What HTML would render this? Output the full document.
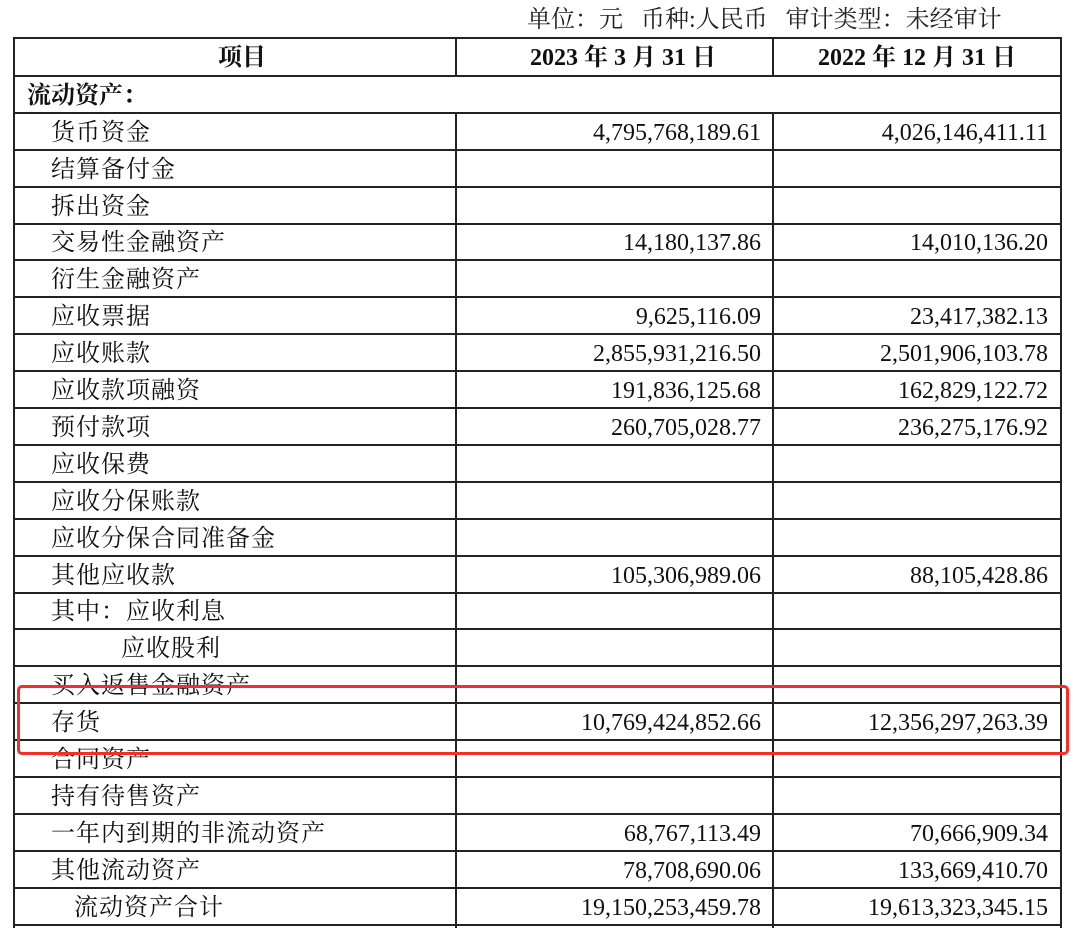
<!DOCTYPE html>
<html><head><meta charset="utf-8"><style>
body{margin:0;width:1080px;height:928px;background:#fff;overflow:hidden;position:relative;font-family:"Liberation Serif","Noto Serif CJK SC",serif;color:#111}
.h{position:absolute;left:13px;width:1048px;height:0;border-top:2px solid #222}
.v{position:absolute;width:0;border-left:2px solid #222}
.r{position:absolute;left:0;width:1080px;height:37px;line-height:37px;font-size:24px;margin-top:2px}
.l{position:absolute;white-space:nowrap;letter-spacing:1px}
.a{position:absolute;right:319px;white-space:nowrap}
.b{position:absolute;right:32px;white-space:nowrap}
</style></head><body>
<div style="position:absolute;left:527px;top:4px;font-size:24px;line-height:32px;white-space:nowrap;color:#222">单位：元&nbsp;&nbsp;&nbsp;币种:人民币&nbsp;&nbsp;&nbsp;审计类型：未经审计</div>

<div class="h" style="top:37px"></div>
<div class="h" style="top:75px"></div>
<div class="h" style="top:112px"></div>
<div class="h" style="top:149px"></div>
<div class="h" style="top:186px"></div>
<div class="h" style="top:223px"></div>
<div class="h" style="top:259px"></div>
<div class="h" style="top:296px"></div>
<div class="h" style="top:333px"></div>
<div class="h" style="top:370px"></div>
<div class="h" style="top:407px"></div>
<div class="h" style="top:444px"></div>
<div class="h" style="top:481px"></div>
<div class="h" style="top:518px"></div>
<div class="h" style="top:555px"></div>
<div class="h" style="top:592px"></div>
<div class="h" style="top:628px"></div>
<div class="h" style="top:665px"></div>
<div class="h" style="top:702px"></div>
<div class="h" style="top:739px"></div>
<div class="h" style="top:776px"></div>
<div class="h" style="top:813px"></div>
<div class="h" style="top:850px"></div>
<div class="h" style="top:887px"></div>
<div class="h" style="top:924px"></div>

<div class="v" style="left:13px;top:37px;height:891px"></div>
<div class="v" style="left:1060px;top:37px;height:891px"></div>
<div class="v" style="left:455px;top:37px;height:38px"></div>
<div class="v" style="left:772px;top:37px;height:38px"></div>
<div class="v" style="left:455px;top:112px;height:816px"></div>
<div class="v" style="left:772px;top:112px;height:816px"></div>

<div class="r" style="top:38px;font-weight:bold">
<span class="l" style="left:218px;letter-spacing:0">项目</span>
<span class="l" style="left:530px;letter-spacing:0">2023 年 3 月 31 日</span>
<span class="l" style="left:818px;letter-spacing:0">2022 年 12 月 31 日</span></div>
<div class="r" style="top:76px;font-weight:bold"><span class="l" style="left:27px;letter-spacing:0">流动资产：</span></div>
<div class="r" style="top:113px"><span class="l" style="left:51px">货币资金</span><span class="a">4,795,768,189.61</span><span class="b">4,026,146,411.11</span></div>
<div class="r" style="top:150px"><span class="l" style="left:51px">结算备付金</span></div>
<div class="r" style="top:187px"><span class="l" style="left:51px">拆出资金</span></div>
<div class="r" style="top:223px"><span class="l" style="left:51px">交易性金融资产</span><span class="a">14,180,137.86</span><span class="b">14,010,136.20</span></div>
<div class="r" style="top:260px"><span class="l" style="left:51px">衍生金融资产</span></div>
<div class="r" style="top:297px"><span class="l" style="left:51px">应收票据</span><span class="a">9,625,116.09</span><span class="b">23,417,382.13</span></div>
<div class="r" style="top:334px"><span class="l" style="left:51px">应收账款</span><span class="a">2,855,931,216.50</span><span class="b">2,501,906,103.78</span></div>
<div class="r" style="top:371px"><span class="l" style="left:51px">应收款项融资</span><span class="a">191,836,125.68</span><span class="b">162,829,122.72</span></div>
<div class="r" style="top:408px"><span class="l" style="left:51px">预付款项</span><span class="a">260,705,028.77</span><span class="b">236,275,176.92</span></div>
<div class="r" style="top:445px"><span class="l" style="left:51px">应收保费</span></div>
<div class="r" style="top:482px"><span class="l" style="left:51px">应收分保账款</span></div>
<div class="r" style="top:519px"><span class="l" style="left:51px">应收分保合同准备金</span></div>
<div class="r" style="top:556px"><span class="l" style="left:51px">其他应收款</span><span class="a">105,306,989.06</span><span class="b">88,105,428.86</span></div>
<div class="r" style="top:592px"><span class="l" style="left:51px">其中：应收利息</span></div>
<div class="r" style="top:629px"><span class="l" style="left:121px">应收股利</span></div>
<div class="r" style="top:666px"><span class="l" style="left:51px">买入返售金融资产</span></div>
<div class="r" style="top:703px"><span class="l" style="left:51px">存货</span><span class="a">10,769,424,852.66</span><span class="b">12,356,297,263.39</span></div>
<div class="r" style="top:740px"><span class="l" style="left:51px">合同资产</span></div>
<div class="r" style="top:777px"><span class="l" style="left:51px">持有待售资产</span></div>
<div class="r" style="top:814px"><span class="l" style="left:51px">一年内到期的非流动资产</span><span class="a">68,767,113.49</span><span class="b">70,666,909.34</span></div>
<div class="r" style="top:851px"><span class="l" style="left:51px">其他流动资产</span><span class="a">78,708,690.06</span><span class="b">133,669,410.70</span></div>
<div class="r" style="top:888px"><span class="l" style="left:74px">流动资产合计</span><span class="a">19,150,253,459.78</span><span class="b">19,613,323,345.15</span></div>

<div style="position:absolute;left:17px;top:685px;width:1046px;height:64px;border:3px solid #f0302a;border-radius:5px"></div>
</body></html>
